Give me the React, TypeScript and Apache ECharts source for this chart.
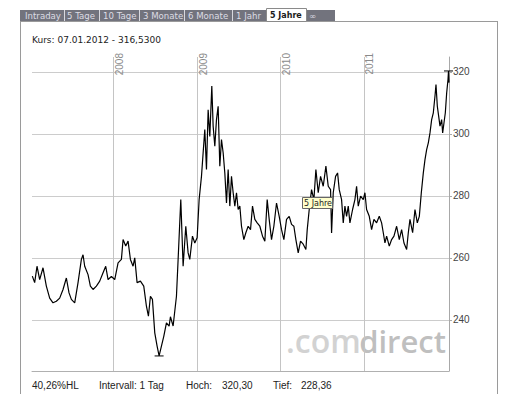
import React, { useEffect, useRef } from "react";
import * as echarts from "echarts";

// Time position of each reading, in fractional years
const yearPos = [
  2007.024, 2007.052, 2007.08, 2007.112, 2007.152, 2007.192, 2007.232, 2007.272, 2007.312, 2007.352,
  2007.392, 2007.432, 2007.464, 2007.492, 2007.532, 2007.572, 2007.612, 2007.632, 2007.652, 2007.692,
  2007.72, 2007.752, 2007.792, 2007.832, 2007.872, 2007.904, 2007.932, 2007.972, 2008.012, 2008.052,
  2008.092, 2008.112, 2008.144, 2008.172, 2008.2, 2008.232, 2008.252, 2008.28, 2008.32, 2008.36,
  2008.392, 2008.416, 2008.44, 2008.464, 2008.492, 2008.52, 2008.544, 2008.572, 2008.6, 2008.632,
  2008.664, 2008.68, 2008.712, 2008.752, 2008.772, 2008.804, 2008.832, 2008.864, 2008.892, 2008.912,
  2008.944, 2008.972, 2009.0, 2009.024, 2009.052, 2009.072, 2009.092, 2009.112, 2009.132, 2009.152,
  2009.176, 2009.192, 2009.212, 2009.232, 2009.252, 2009.272, 2009.292, 2009.312, 2009.332, 2009.352,
  2009.372, 2009.392, 2009.412, 2009.432, 2009.452, 2009.472, 2009.492, 2009.512, 2009.532, 2009.56,
  2009.584, 2009.612, 2009.64, 2009.664, 2009.692, 2009.72, 2009.752, 2009.784, 2009.812, 2009.84,
  2009.864, 2009.892, 2009.92, 2009.952, 2009.984, 2010.012, 2010.04, 2010.072, 2010.104, 2010.132,
  2010.16, 2010.184, 2010.212, 2010.24, 2010.272, 2010.304, 2010.32, 2010.344, 2010.372, 2010.4,
  2010.424, 2010.452, 2010.48, 2010.512, 2010.544, 2010.572, 2010.6, 2010.612, 2010.632, 2010.66,
  2010.684, 2010.704, 2010.732, 2010.752, 2010.772, 2010.792, 2010.812, 2010.832, 2010.864, 2010.892,
  2010.912, 2010.932, 2010.96, 2010.992, 2011.012, 2011.032, 2011.064, 2011.092, 2011.12, 2011.152,
  2011.184, 2011.212, 2011.232, 2011.252, 2011.272, 2011.304, 2011.332, 2011.36, 2011.392, 2011.424,
  2011.452, 2011.48, 2011.512, 2011.532, 2011.552, 2011.584, 2011.612, 2011.64, 2011.664, 2011.688,
  2011.712, 2011.732, 2011.752, 2011.772, 2011.792, 2011.812, 2011.832, 2011.852, 2011.864, 2011.88,
  2011.896, 2011.912, 2011.932, 2011.944, 2011.96, 2011.976, 2011.992, 2012.008, 2012.014, 2012.02,
];

// Price readings
const prices = [
  254.1, 252, 257.3, 253, 256.8, 250.9, 247, 245.5, 246, 247,
  249.8, 253.5, 248.7, 246.6, 245.5, 252, 259.5, 261, 257.3, 254.6,
  250.9, 249.8, 250.9, 252.5, 255.2, 257.3, 253, 254, 253, 258.4,
  259.5, 265.9, 263.8, 265.4, 259.5, 257.3, 260, 252, 252.5, 250.9,
  244.4, 241.2, 247.6, 246.6, 235.8, 231.5, 228.36, 231.5, 234.7, 239,
  238, 241, 238, 247.6, 259.5, 278.8, 257.3, 270.2, 261.6, 259.5,
  267, 264.8, 266.5, 278.8, 286.3, 293.9, 301.4, 288.5, 307.8, 299.2,
  315.4, 302.5, 296, 304.6, 308.9, 289.6, 298.2, 293.9, 287.4, 277.7,
  288.5, 276.7, 286.3, 281, 276.7, 281, 275.6, 276.7, 270.2, 265.9,
  268.1, 270.2, 269.1, 276.7, 272.4, 271.3, 270.2, 267, 265.4, 278.8,
  272.4, 265.9, 270.2, 277.7, 273.4, 269.1, 265.9, 272.4, 273.4, 270.8,
  270.2, 265.9, 261.6, 265.4, 264.4, 262.7, 269.1, 275.6, 282, 278.8,
  288.5, 281, 286.3, 283.1, 289.6, 283.1, 282, 268, 281, 286.3,
  287.4, 282, 278.8, 271.3, 276.7, 273.4, 276.7, 271.3, 275.6, 278.8,
  283.1, 276.7, 279.9, 278.8, 281, 275.6, 273.4, 269.1, 272.4, 271.3,
  273.4, 271.3, 268.1, 264.8, 267, 263.8, 265.9, 267, 270.2, 265.9,
  269.1, 264.8, 262.7, 268.1, 272.4, 268.1, 275.6, 271.3, 273.4, 281,
  287.4, 291.7, 294.9, 297.1, 300.3, 304.6, 306.8, 312.2, 315.9, 308.9,
  305.7, 302.5, 304.6, 300.3, 303.6, 306.8, 313.2, 317.5, 320.3, 316.53,
];

const yearTicks = [2008, 2009, 2010, 2011];
const tabLabels = ["Intraday", "5 Tage", "10 Tage", "3 Monate", "6 Monate", "1 Jahr", "5 Jahre", "∞"];
const activeTab = "5 Jahre";
const titleText = "Kurs: 07.01.2012 - 316,5300";
const footerTexts = ["40,26%HL", "Intervall: 1 Tag", "Hoch:", "320,30", "Tief:", "228,36"];
const tooltipText = "5 Jahre";

export default function App() {
  const ref = useRef<HTMLDivElement>(null);

  useEffect(() => {
    if (!ref.current) return;
    const chart = echarts.init(ref.current, undefined, { renderer: "svg" });
    const data = yearPos.map((x, i) => [x, prices[i]]);

    // tab geometry
    const tabX = [20, 64, 99, 139, 184, 232, 266, 306, 335];
    const tabTextX = [25, 67, 103, 143, 188, 236, 270, 309];
    const tabGraphics: any[] = [
      { type: "rect", shape: { x: 20, y: 10, width: 315, height: 11 }, style: { fill: "#72737d" }, z: 1 },
    ];
    tabLabels.forEach((t, i) => {
      const active = t === activeTab;
      if (active) {
        tabGraphics.push({
          type: "rect",
          shape: { x: tabX[i] + 0.5, y: 8.5, width: tabX[i + 1] - tabX[i], height: 13 },
          style: { fill: "#ffffff", stroke: "#8a8a8a", lineWidth: 1 },
          z: 2,
        });
      } else if (i > 0 && tabLabels[i - 1] !== activeTab) {
        tabGraphics.push({
          type: "line",
          shape: { x1: tabX[i] + 0.5, y1: 10, x2: tabX[i] + 0.5, y2: 21 },
          style: { stroke: "#d8d8de", lineWidth: 1 },
          z: 2,
        });
      }
      tabGraphics.push({
        type: "text",
        x: tabTextX[i],
        y: 15.5,
        style: {
          text: t,
          fill: active ? "#1a1a1a" : "#dcdce4",
          font: active ? "bold 8px 'DejaVu Sans'" : "8.6px 'DejaVu Sans'",
          textVerticalAlign: "middle",
        },
        z: 3,
      });
    });

    const footerX = [32, 99, 186, 222, 273, 301];
    const footer = footerTexts.map((t, i) => ({
      type: "text",
      x: footerX[i],
      y: 385,
      style: { text: t, fill: "#222", font: "10px 'Liberation Sans'", textVerticalAlign: "middle" },
    }));

    chart.setOption({
      animation: false,
      backgroundColor: "#ffffff",
      grid: { left: 32, right: 66, top: 57, bottom: 23 },
      xAxis: {
        type: "value",
        min: 2007.02,
        max: 2012.02,
        axisLine: { show: true, lineStyle: { color: "#b0b0b0" } },
        axisTick: { show: false },
        axisLabel: { show: false },
        splitLine: { show: false },
      },
      yAxis: {
        type: "value",
        position: "right",
        min: 223.5,
        max: 324.8,
        splitNumber: 5,
        axisLine: { show: true, lineStyle: { color: "#a8a8a8" } },
        axisTick: { show: true, length: 3, lineStyle: { color: "#a8a8a8" } },
        axisLabel: {
          color: "#444",
          fontSize: 10,
          fontFamily: "Liberation Sans",
          margin: 4,
          showMinLabel: false,
          showMaxLabel: false,
        },
        splitLine: { show: true, showMinLine: false, showMaxLine: false, lineStyle: { color: "#cccccc" } },
      },
      series: [
        {
          type: "line",
          data,
          showSymbol: false,
          symbol: "none",
          lineStyle: { color: "#000", width: 1.2 },
          z: 5,
          markLine: {
            silent: true,
            symbol: "none",
            lineStyle: { color: "#c4c4c4", type: "solid", width: 1 },
            label: {
              show: true,
              position: "insideEndBottom",
              formatter: (p: any) => String(p.value),
              color: "#8a8a8a",
              fontSize: 10,
              fontFamily: "Liberation Sans",
              distance: [-4, 1],
            },
            data: yearTicks.map((y) => ({ xAxis: y })),
          },
          markPoint: {
            silent: true,
            symbol: "rect",
            symbolSize: [9, 1],
            itemStyle: { color: "#000" },
            label: { show: false },
            data: [{ type: "max" }, { type: "min" }],
          },
        },
      ],
      graphic: [
        // frame
        { type: "line", shape: { x1: 20.5, y1: 21, x2: 20.5, y2: 394 }, style: { stroke: "#9a9a9a", lineWidth: 1 } },
        { type: "line", shape: { x1: 497.5, y1: 21, x2: 497.5, y2: 394 }, style: { stroke: "#9a9a9a", lineWidth: 1 } },
        { type: "line", shape: { x1: 20, y1: 21.5, x2: 498, y2: 21.5 }, style: { stroke: "#9a9a9a", lineWidth: 1 } },
        ...tabGraphics,
        {
          type: "text",
          x: 32,
          y: 40,
          style: { text: titleText, fill: "#222", font: "9px 'DejaVu Sans'", textVerticalAlign: "middle" },
        },
        ...footer,
        // watermark
        {
          type: "text",
          x: 286,
          y: 356,
          z: -1,
          style: { text: ".com", fill: "#d2d2d2", font: "600 32px 'Open Sans'", textVerticalAlign: "bottom" },
        },
        {
          type: "text",
          x: 446,
          y: 356,
          z: -1,
          style: {
            text: "direct",
            fill: "#bfbfbf",
            font: "600 31px 'Open Sans'",
            textAlign: "right",
            textVerticalAlign: "bottom",
          },
        },
        // tooltip
        {
          type: "rect",
          shape: { x: 302.5, y: 197.5, width: 30, height: 11 },
          style: { fill: "#ffffcc", stroke: "#666", lineWidth: 1 },
          z: 10,
        },
        {
          type: "text",
          x: 304,
          y: 203,
          z: 11,
          style: { text: tooltipText, fill: "#222", font: "8px 'DejaVu Sans'", textVerticalAlign: "middle" },
        },
      ],
    });

    return () => chart.dispose();
  }, []);

  return (
    <div
      ref={ref}
      style={{ position: "fixed", left: 0, top: 0, width: 515, height: 394, background: "#fff" }}
    />
  );
}
